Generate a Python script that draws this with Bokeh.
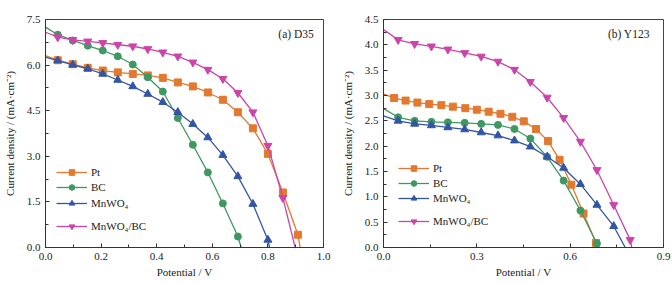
from bokeh.plotting import figure
from bokeh.layouts import row
from bokeh.models import (Range1d, FixedTicker, NumeralTickFormatter, Legend, LegendItem, Label)
from bokeh.embed import file_html
from bokeh.resources import INLINE

# ---------------- data: (a) D35 ----------------
v_a = [0.044, 0.098, 0.152, 0.206, 0.260, 0.314, 0.368, 0.422, 0.476, 0.530,
       0.584, 0.638, 0.692, 0.746, 0.800, 0.854, 0.908]
pt_a = [6.16, 6.03, 5.91, 5.82, 5.76, 5.71, 5.66, 5.58, 5.43, 5.30, 5.10, 4.86,
        4.45, 3.92, 3.08, 1.81, 0.42]
pt_a_j0, pt_a_voc = 6.31, 0.916
bc_a = [7.00, 6.81, 6.64, 6.48, 6.29, 6.02, 5.60, 5.13, 4.26, 3.38, 2.47, 1.45, 0.36]
bc_a_j0, bc_a_voc = 7.25, 0.704
mn_a = [6.15, 6.01, 5.88, 5.71, 5.51, 5.30, 5.05, 4.78, 4.45, 4.06, 3.62, 3.04,
        2.34, 1.43, 0.25]
mn_a_j0, mn_a_voc = 6.26, 0.806
mb_a = [6.92, 6.83, 6.78, 6.73, 6.67, 6.62, 6.53, 6.42, 6.29, 6.09, 5.85, 5.55,
        5.09, 4.45, 3.35, 1.63]
mb_a_j0, mb_a_voc = 7.08, 0.898

# ---------------- data: (b) Y123 ----------------
v_b_pt = [0.034, 0.071, 0.109, 0.147, 0.186, 0.223, 0.263, 0.300, 0.338, 0.376,
          0.414, 0.451, 0.490, 0.529, 0.566, 0.604, 0.643, 0.683]
pt_b = [2.95, 2.90, 2.86, 2.83, 2.81, 2.78, 2.75, 2.72, 2.68, 2.64, 2.58, 2.49,
        2.34, 2.10, 1.73, 1.24, 0.67, 0.09]
pt_b_j0, pt_b_voc = 3.03, 0.686
v_b = [0.047, 0.100, 0.154, 0.207, 0.261, 0.314, 0.368, 0.421, 0.472, 0.526,
       0.579, 0.633, 0.686, 0.740, 0.793]
bc_b = [2.57, 2.50, 2.48, 2.47, 2.46, 2.44, 2.42, 2.34, 2.15, 1.79, 1.32, 0.73, 0.08]
bc_b_j0, bc_b_voc = 2.74, 0.690
mn_b = [2.50, 2.44, 2.41, 2.37, 2.33, 2.27, 2.21, 2.11, 1.99, 1.79, 1.57, 1.25,
        0.84, 0.42]
mn_b_j0, mn_b_voc = 2.60, 0.777
mb_b = [4.10, 4.02, 3.97, 3.91, 3.84, 3.77, 3.67, 3.51, 3.27, 2.96, 2.56, 2.09,
        1.53, 0.84, 0.15]
mb_b_j0, mb_b_voc = 4.30, 0.798

labels = ["Pt", "BC", "MnWO\u2084", "MnWO\u2084/BC"]
colors = ["#E3782F", "#3F9862", "#3355A5", "#CC44AA"]
markers = ["square", "circle", "triangle", "inverted_triangle"]
msizes = [7, 7, 8, 8]

FONT = "Liberation Serif"


def make_fig(xmax, ymax, xmaj, xmin, ymaj, ymin, bl):
    p = figure(width=336, height=283, output_backend="svg", toolbar_location=None,
               x_range=Range1d(0, xmax), y_range=Range1d(0, ymax),
               frame_width=280 if bl == 40 else 278, frame_height=228,
               min_border_left=bl, min_border_right=336 - bl - (280 if bl == 40 else 278),
               min_border_top=19, min_border_bottom=36)
    p.background_fill_color = "white"
    p.border_fill_color = "white"
    p.outline_line_color = "#444444"
    p.outline_line_width = 1
    p.xgrid.visible = False
    p.ygrid.visible = False
    p.xaxis.ticker = FixedTicker(ticks=xmaj, minor_ticks=xmin)
    p.yaxis.ticker = FixedTicker(ticks=ymaj, minor_ticks=ymin)
    p.xaxis.formatter = NumeralTickFormatter(format="0.0")
    p.yaxis.formatter = NumeralTickFormatter(format="0.0")
    for ax in (p.xaxis, p.yaxis):
        ax.axis_line_color = "#333333"
        ax.major_tick_line_color = "#333333"
        ax.minor_tick_line_color = "#333333"
        ax.major_tick_in = 4
        ax.major_tick_out = 0
        ax.minor_tick_in = 3
        ax.minor_tick_out = 0
        ax.major_label_text_font = FONT
        ax.major_label_text_font_size = "11px"
        ax.major_label_text_color = "#222222"
        ax.axis_label_text_font = FONT
        ax.axis_label_text_font_size = "11px"
        ax.axis_label_text_font_style = "normal"
        ax.axis_label_text_color = "#222222"
        ax.major_label_standoff = 5
    p.xaxis.axis_label = "Potential / V"
    p.yaxis.axis_label = "Current density / (mA\u00b7cm\u207b\u00b2)"
    p.xaxis.axis_label_standoff = 3
    p.yaxis.axis_label_standoff = 8
    return p


def add_series(p, i, vs, js, j0, voc, legend_x, legend_cy):
    lx = [0.0] + list(vs[:len(js)]) + [voc]
    ly = [j0] + list(js) + [0.0]
    ln = p.line(lx, ly, line_color=colors[i], line_width=1.3)
    sc = p.scatter(list(vs[:len(js)]), list(js), marker=markers[i], size=msizes[i],
                   fill_color=colors[i], line_color=colors[i])
    leg = Legend(items=[LegendItem(label=labels[i], renderers=[ln, sc])],
                 location=(legend_x, legend_cy - 7), padding=0, margin=0,
                 spacing=0, glyph_width=31, glyph_height=14, label_height=14,
                 label_standoff=4, border_line_alpha=0, background_fill_alpha=0,
                 label_text_font=FONT, label_text_font_size="11px",
                 label_text_color="#222222")
    p.add_layout(leg)


pa = make_fig(1.0, 7.5, [0, 0.2, 0.4, 0.6, 0.8, 1.0], [0.1, 0.3, 0.5, 0.7, 0.9],
              [0, 1.5, 3.0, 4.5, 6.0, 7.5], [0.75, 2.25, 3.75, 5.25, 6.75], 43)
add_series(pa, 0, v_a, pt_a, pt_a_j0, pt_a_voc, 11, 75)
add_series(pa, 1, v_a, bc_a, bc_a_j0, bc_a_voc, 11, 60)
add_series(pa, 2, v_a, mn_a, mn_a_j0, mn_a_voc, 11, 44)
add_series(pa, 3, v_a, mb_a, mb_a_j0, mb_a_voc, 11, 21)
pa.add_layout(Label(x=0.965, y=7.03, text="(a) D35", text_align="right",
                    text_baseline="middle", text_font=FONT, text_font_size="11.5px",
                    text_color="#222222"))

pb = make_fig(0.9, 4.5, [0, 0.3, 0.6, 0.9], [0.15, 0.45, 0.75],
              [0, 0.5, 1.0, 1.5, 2.0, 2.5, 3.0, 3.5, 4.0, 4.5],
              [0.25, 0.75, 1.25, 1.75, 2.25, 2.75, 3.25, 3.75, 4.25], 40)
add_series(pb, 0, v_b_pt, pt_b, pt_b_j0, pt_b_voc, 15, 79)
add_series(pb, 1, v_b, bc_b, bc_b_j0, bc_b_voc, 15, 64)
add_series(pb, 2, v_b, mn_b, mn_b_j0, mn_b_voc, 15, 49)
add_series(pb, 3, v_b, mb_b, mb_b_j0, mb_b_voc, 15, 26)
pb.add_layout(Label(x=0.856, y=4.22, text="(b) Y123", text_align="right",
                    text_baseline="middle", text_font=FONT, text_font_size="11.5px",
                    text_color="#222222"))

layout = row(pa, pb)
open("out.html", "w").write(file_html(layout, INLINE))
